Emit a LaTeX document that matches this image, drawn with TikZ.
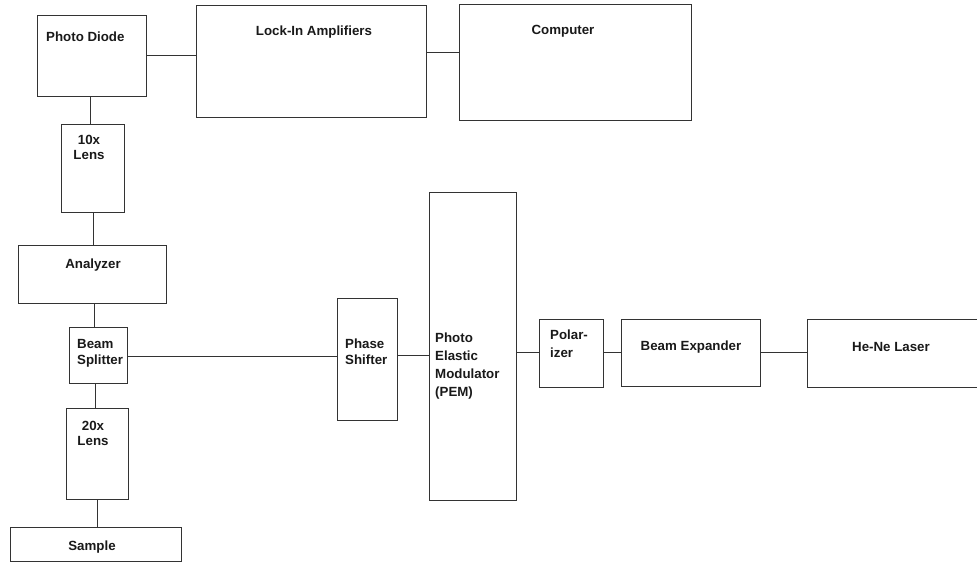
\documentclass[tikz,border=0pt]{standalone}
\usepackage{fontspec}
\setmainfont{Liberation Sans}
\begin{document}
\begin{tikzpicture}[x=1pt,y=-1pt,
  box/.style={draw=black!80, line width=1pt, inner sep=0pt, outer sep=0pt},
  wire/.style={draw=black!80, line width=1pt},
  lbl/.style={font=\fontsize{13.3}{16}\selectfont\bfseries, text=black!90, inner sep=0pt},
  lblL/.style={lbl, align=left, anchor=north west},
  lblC/.style={lbl, align=center}]
\useasboundingbox (0,0) rectangle (977,562);
\newcommand{\mybox}[5]{\node[box, minimum width={#4-#2}, minimum height={#5-#3}] (#1) at ({(#2+#4)/2},{(#3+#5)/2}) {};}
\mybox{pd}{37}{15}{146}{96}
\mybox{lia}{196}{5}{426}{117}
\mybox{comp}{459}{4}{691}{120}
\mybox{lensA}{61}{124}{124}{212}
\mybox{an}{18}{245}{166}{303}
\mybox{bs}{69}{327}{127}{383}
\mybox{lensB}{66}{408}{128}{499}
\mybox{smp}{10}{527}{181}{561}
\mybox{ps}{337}{298}{397}{420}
\mybox{pem}{429}{192}{516}{500}
\mybox{pol}{539}{319}{603}{387}
\mybox{be}{621}{319}{760}{386}
\node[box, minimum width=180, minimum height=68] (laser) at (897,353) {};
% labels
\node[lbl, anchor=west] (tpd) at (46,37) {Photo Diode};
\node[lbl] (tlia) at (314,32) {Lock-In Amplifiers};
\node[lbl] (tcomp) at (563,31) {Computer};
\node[lblC, anchor=north, font=\fontsize{13.3}{15}\selectfont\bfseries] (tlA) at (89,135) {10x\\Lens};
\node[lbl] (tan) at (93,265) {Analyzer};
\node[lblL] (tbs) at (77,339) {Beam\\Splitter};
\node[lblC, anchor=north, font=\fontsize{13.3}{15}\selectfont\bfseries] (tlB) at (93,421) {20x\\Lens};
\node[lbl] (tsmp) at (92,547) {Sample};
\node[lblL] (tps) at (345,339) {Phase\\Shifter};
\node[lblL, font=\fontsize{13.3}{18}\selectfont\bfseries] (tpem) at (435,333) {Photo\\Elastic\\Modulator\\(PEM)};
\node[lblL, font=\fontsize{13.3}{18}\selectfont\bfseries] (tpol) at (550,330) {Polar-\\izer};
\node[lbl] (tbe) at (691,347) {Beam Expander};
\node[lbl] (tlas) at (891,347) {He-Ne Laser};
% connectors
\draw[wire] (pd.east |- 0,55) -- (lia.west |- 0,55);
\draw[wire] (lia.east |- 0,52) -- (comp.west |- 0,52);
\draw[wire] (pd.south -| 90,0) -- (lensA.north -| 90,0);
\draw[wire] (lensA.south -| 93,0) -- (an.north -| 93,0);
\draw[wire] (an.south -| 94,0) -- (bs.north -| 94,0);
\draw[wire] (bs.south -| 95,0) -- (lensB.north -| 95,0);
\draw[wire] (lensB.south -| 97,0) -- (smp.north -| 97,0);
\draw[wire] (bs.east |- 0,356) -- (ps.west |- 0,356);
\draw[wire] (ps.east |- 0,355) -- (pem.west |- 0,355);
\draw[wire] (pem.east |- 0,352) -- (pol.west |- 0,352);
\draw[wire] (pol.east |- 0,352) -- (be.west |- 0,352);
\draw[wire] (be.east |- 0,352) -- (laser.west |- 0,352);
\end{tikzpicture}
\end{document}
